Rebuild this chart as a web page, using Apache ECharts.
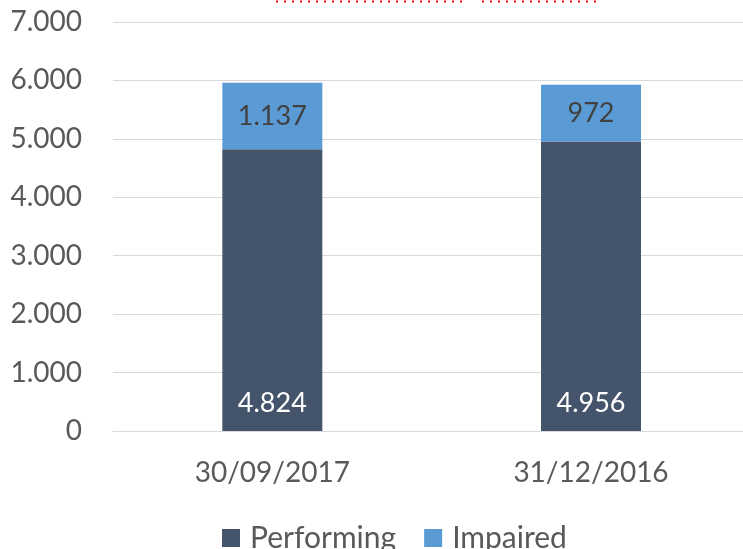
<!DOCTYPE html>
<html>
<head>
<meta charset="utf-8">
<script src="https://cdn.jsdelivr.net/npm/echarts@6/dist/echarts.min.js"></script>
<style>
  html, body { margin: 0; padding: 0; background: #fff; }
  #main { width: 743px; height: 549px; }
</style>
</head>
<body>
<div id="main"></div>
<script>
// values
var categories = ["30/09/2017", "31/12/2016"];
var performing = [4824, 4956];
var impaired = [1137, 972];

var fontName = "Lato";
var textColor = "#595959";

// thousands with a dot, as in the source
var fmt = function (v) {
    return String(v).replace(/\B(?=(\d{3})+(?!\d))/g, ".");
};

// the source plot area runs past the right edge of the picture, so the
// categories sit on a numeric axis that is cut at the canvas edge.
// value goes first in each row so the stack runs on y
var pos = categories.map(function (c, i) { return i; });
var rows = function (arr) {
    return arr.map(function (v, i) { return [v, i]; });
};

var chart = echarts.init(document.getElementById("main"));

var option = {
    animation: false,
    textStyle: { fontFamily: fontName },
    grid: { left: 113, top: 22, bottom: 118, right: 0 },
    legend: {
        top: 518,
        left: 217,
        itemWidth: 18,
        itemHeight: 18,
        itemGap: 28,
        icon: "rect",
        textStyle: { fontSize: 30, color: textColor, fontFamily: fontName, padding: [0, 0, 0, 5] },
        data: ["Performing", "Impaired"]
    },
    xAxis: {
        type: "value",
        min: -0.5,
        max: 1.477,
        splitLine: { show: false },
        axisTick: { show: false },
        axisLine: { onZero: false, lineStyle: { color: "#d9d9d9", width: 1 } },
        axisLabel: {
            customValues: pos,
            fontSize: 28,
            color: textColor,
            margin: 28,
            formatter: function (v) { return categories[Math.round(v)]; }
        }
    },
    yAxis: {
        type: "value",
        min: 0,
        max: 7000,
        interval: 1000,
        axisLine: { show: false },
        axisTick: { show: false },
        splitLine: { lineStyle: { color: "#d9d9d9", width: 1 } },
        axisLabel: {
            fontSize: 28,
            color: textColor,
            margin: 31,
            formatter: fmt
        }
    },
    series: [
        {
            name: "Performing",
            type: "bar",
            stack: "total",
            barWidth: 100,
            encode: { x: 1, y: 0 },
            data: rows(performing),
            itemStyle: { color: "#44546A" },
            label: {
                show: true,
                position: "insideBottom",
                distance: 14,
                color: "#ffffff",
                fontSize: 27,
                formatter: function (p) { return fmt(p.value[0]); }
            }
        },
        {
            name: "Impaired",
            type: "bar",
            stack: "total",
            barWidth: 100,
            encode: { x: 1, y: 0 },
            data: rows(impaired),
            itemStyle: { color: "#5B9BD5" },
            label: {
                show: true,
                position: "inside",
                color: "#404040",
                fontSize: 27,
                formatter: function (p) { return fmt(p.value[0]); }
            }
        }
    ],
    // red dotted underline of a cut-off heading at the top edge
    graphic: [
        {
            type: "line",
            shape: { x1: 276, y1: 1.5, x2: 468, y2: 1.5 },
            style: { stroke: "#ff0000", lineWidth: 2, lineDash: [2, 6] }
        },
        {
            type: "line",
            shape: { x1: 482, y1: 1.5, x2: 596, y2: 1.5 },
            style: { stroke: "#ff0000", lineWidth: 2, lineDash: [2, 6] }
        }
    ]
};

chart.setOption(option);
</script>
</body>
</html>
